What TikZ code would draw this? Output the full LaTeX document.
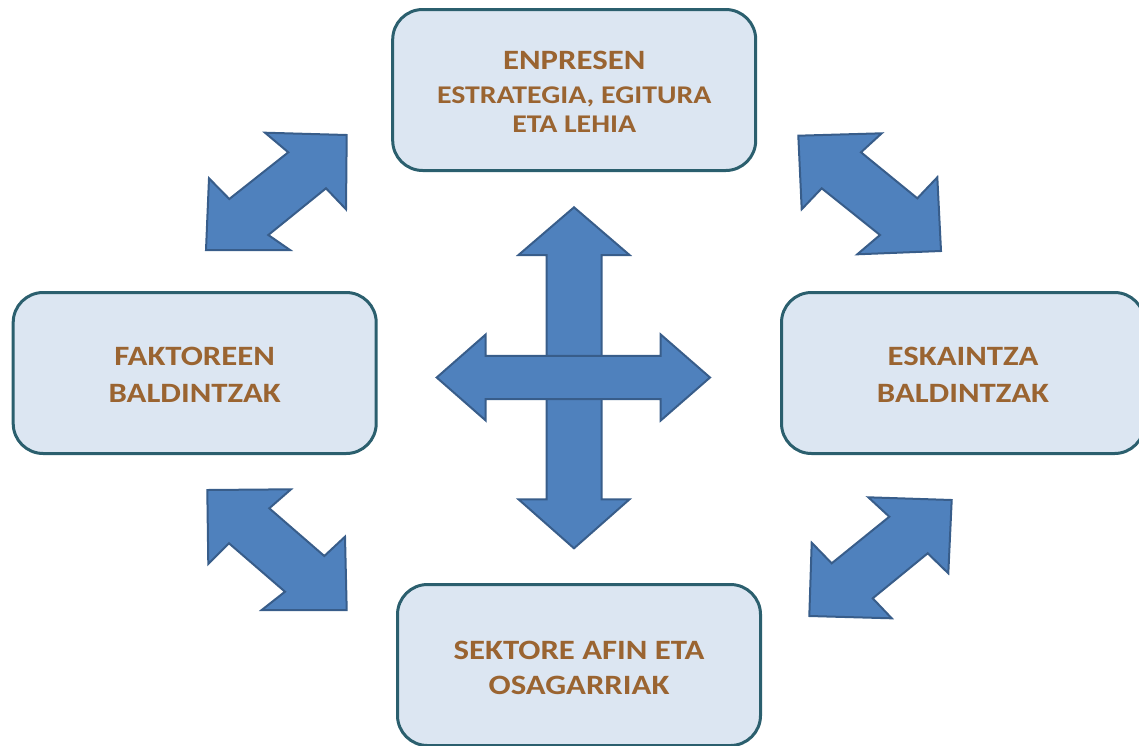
\documentclass[tikz,border=0pt]{standalone}
\usepackage{fontspec}
\setmainfont{Carlito}[FakeStretch=1.17]
\definecolor{boxfill}{HTML}{DCE6F2}
\definecolor{boxline}{HTML}{2B5F6E}
\definecolor{txt}{HTML}{9A6431}
\definecolor{arrfill}{HTML}{4F81BD}
\definecolor{arrline}{HTML}{385D8A}
\tikzset{
  factorbox/.style={draw=boxline, fill=boxfill, line width=3pt, rounded corners=30pt,
    minimum width=363pt, minimum height=161pt, inner sep=0pt},
  boxtext/.style={inner sep=0pt, align=center, text=txt,
    font=\fontsize{28}{36.5}\selectfont\bfseries},
  blockarrow/.style={fill=arrfill, draw=arrline, line width=2pt, line join=miter}
}
\begin{document}
\begin{tikzpicture}[x=1pt,y=-1pt]
\useasboundingbox (0,0) rectangle (1139,745);
% boxes
\node[factorbox] (top) at (574.2,90) {};
\node[factorbox] (left) at (194.7,373) {};
\node[factorbox] (right) at (963,373) {};
\node[factorbox] (bottom) at (579,665) {};
\node[boxtext] (toptext) at ([yshift=-1.5pt]top.center) {ENPRESEN\\[-2.5pt]{\fontsize{25.5}{29}\selectfont ESTRATEGIA, EGITURA}\\[-7.5pt]{\fontsize{25.5}{29}\selectfont ETA LEHIA}};
\node[boxtext] (lefttext) at ([yshift=-2pt]left.center) {FAKTOREEN\\BALDINTZAK};
\node[boxtext] (righttext) at ([yshift=-2pt]right.center) {ESKAINTZA\\BALDINTZAK};
\node[boxtext] (bottomtext) at ([yshift=-2.5pt]bottom.center) {SEKTORE AFIN ETA\\[-1.5pt]OSAGARRIAK};
% diagonal arrows
\draw[blockarrow] (346.7,135) -- (346,209.3) -- (326,188.3) -- (268.3,235) -- (290,250) -- (206,250) -- (209,178.3) -- (229.3,199) -- (288.3,152.3) -- (265,132.7) -- cycle;
\draw[blockarrow] (798.3,135.7) -- (881.7,133.3) -- (861,152.3) -- (917.3,198.3) -- (937.3,177.3) -- (941,251) -- (857.3,254.3) -- (880,235) -- (821.7,188.3) -- (801.7,209.3) -- cycle;
\draw[blockarrow] (207.3,490) -- (291,489.3) -- (269.3,508.3) -- (324.3,556) -- (345,536.7) -- (346.7,610) -- (261.7,610) -- (285,591.7) -- (229,543.3) -- (208.3,564) -- cycle;
\draw[blockarrow] (951.7,500) -- (948.3,573.3) -- (927.7,553.3) -- (872.7,598.3) -- (891.7,618.3) -- (809.3,616) -- (811.7,542.7) -- (831.7,563.3) -- (889.3,516.7) -- (868.3,497.3) -- cycle;
% central cross
\draw[blockarrow] (574,207.3) -- (629.5,255) -- (601.5,255) -- (601.5,499.3) -- (629.5,499.3) -- (574,548.3) -- (518.5,499.3) -- (546.5,499.3) -- (546.5,255) -- (518.5,255) -- cycle;
\draw[blockarrow] (436.7,377.5) -- (485.7,334.5) -- (485.7,355.8) -- (660.7,355.8) -- (660.7,334.5) -- (710,377.5) -- (660.7,420.5) -- (660.7,399.2) -- (485.7,399.2) -- (485.7,420.5) -- cycle;
\end{tikzpicture}
\end{document}
